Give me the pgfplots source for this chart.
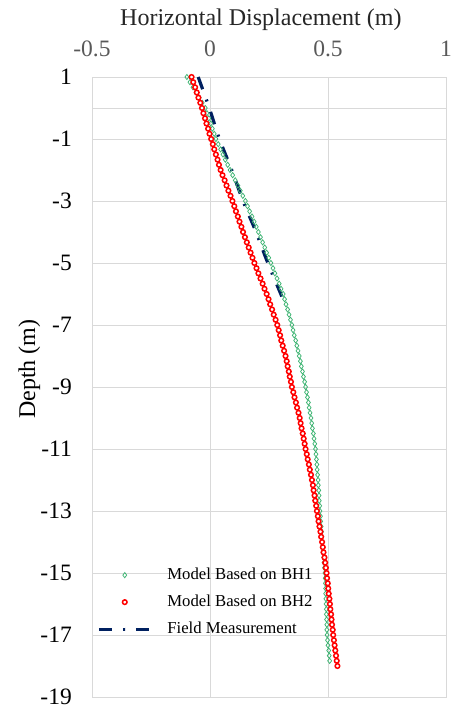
\documentclass[border=0pt]{standalone}
\usepackage{pgfplots}
\pgfplotsset{compat=1.18}
\usepackage{fontspec}
\setmainfont{Liberation Serif}
\definecolor{gridgray}{HTML}{D9D9D9}
\definecolor{bhgreen}{HTML}{3CB371}
\definecolor{navy}{HTML}{002060}
\definecolor{ticklab}{HTML}{595959}
\begin{document}
\begin{tikzpicture}
\useasboundingbox (-92pt,-14pt) rectangle (362pt,697pt);
\begin{axis}[
  scale only axis, width=354pt, height=620pt,
  xmin=-0.5, xmax=1, ymin=-19, ymax=1,
  axis line style={gridgray, line width=0.8pt},
  xtick={-0.5,0,0.5,1}, xticklabels={-0.5,0,0.5,1},
  ytick={1,-1,-3,-5,-7,-9,-11,-13,-15,-17,-19},
  yticklabels={1,-1,-3,-5,-7,-9,-11,-13,-15,-17,-19},
  extra y ticks={0}, extra y tick labels={},
  extra y tick style={grid=major, major tick length=0pt},
  major tick length=0pt,
  xmajorgrids, ymajorgrids,
  grid style={gridgray, line width=0.8pt},
  xticklabel pos=top,
  xticklabel style={anchor=base, yshift=20pt, inner sep=0pt, text=ticklab, font=\fontsize{23.5}{26}\selectfont},
  yticklabel style={anchor=east, xshift=-20pt, inner sep=0pt, text=black, font=\fontsize{23.5}{26}\selectfont},
  xlabel={Horizontal Displacement (m)},
  xlabel style={at={(axis description cs:0.477,1.0823)}, anchor=base, inner sep=0pt, font=\fontsize{24}{26}\selectfont, text=black!85},
  ylabel={Depth (m)},
  ylabel style={at={(axis description cs:-0.161,0.529)}, anchor=base, inner sep=0pt, font=\fontsize{24}{26}\selectfont, text=black},
  legend image code/.code={\draw[mark repeat=2,mark phase=2,#1] plot coordinates {(0pt,0pt) (26pt,0pt) (52pt,0pt)};},
  legend cell align=left,
  legend style={draw=none, fill=none, at={(axis description cs:0.014,0.153)}, anchor=west,
    font=\fontsize{16.7}{18}\selectfont, inner sep=0pt, row sep=11pt,
    nodes={inner sep=0pt, anchor=west, text height=12pt, text depth=4pt},
    /tikz/every odd column/.append style={column sep=15pt}},
]
\addplot[only marks, mark=diamond, mark size=2.6pt, mark options={draw=bhgreen, fill=white, line width=0.75pt}] table {
x y
-0.098 1.000
-0.085 0.833
-0.072 0.667
-0.059 0.500
-0.046 0.333
-0.033 0.167
-0.020 0.000
-0.013 -0.167
-0.005 -0.333
0.003 -0.500
0.010 -0.667
0.018 -0.833
0.025 -1.000
0.035 -1.167
0.045 -1.333
0.055 -1.500
0.065 -1.667
0.075 -1.833
0.085 -2.000
0.096 -2.167
0.107 -2.333
0.118 -2.500
0.128 -2.667
0.139 -2.833
0.150 -3.000
0.159 -3.167
0.168 -3.333
0.178 -3.500
0.187 -3.667
0.196 -3.833
0.205 -4.000
0.214 -4.167
0.223 -4.333
0.232 -4.500
0.240 -4.667
0.249 -4.833
0.258 -5.000
0.267 -5.167
0.275 -5.333
0.284 -5.500
0.293 -5.667
0.301 -5.833
0.310 -6.000
0.316 -6.167
0.322 -6.333
0.329 -6.500
0.335 -6.667
0.341 -6.833
0.347 -7.000
0.352 -7.167
0.357 -7.333
0.363 -7.500
0.368 -7.667
0.373 -7.833
0.378 -8.000
0.383 -8.167
0.387 -8.333
0.392 -8.500
0.396 -8.667
0.401 -8.833
0.405 -9.000
0.409 -9.167
0.413 -9.333
0.417 -9.500
0.420 -9.667
0.424 -9.833
0.428 -10.000
0.431 -10.167
0.434 -10.333
0.438 -10.500
0.441 -10.667
0.444 -10.833
0.447 -11.000
0.449 -11.167
0.451 -11.333
0.453 -11.500
0.454 -11.667
0.456 -11.833
0.458 -12.000
0.459 -12.167
0.461 -12.333
0.462 -12.500
0.463 -12.667
0.465 -12.833
0.466 -13.000
0.468 -13.167
0.469 -13.333
0.471 -13.500
0.473 -13.667
0.474 -13.833
0.476 -14.000
0.478 -14.167
0.480 -14.333
0.482 -14.500
0.483 -14.667
0.485 -14.833
0.487 -15.000
0.488 -15.167
0.489 -15.333
0.490 -15.500
0.490 -15.667
0.491 -15.833
0.492 -16.000
0.493 -16.167
0.493 -16.333
0.494 -16.500
0.495 -16.667
0.495 -16.833
0.496 -17.000
0.498 -17.167
0.500 -17.333
0.503 -17.500
0.505 -17.667
0.507 -17.833
};
\addlegendentry{Model Based on BH1}
\addplot[only marks, mark=*, mark size=2.3pt, mark options={draw=red, fill=white, line width=1.5pt}] table {
x y
-0.078 1.000
-0.071 0.833
-0.063 0.667
-0.056 0.500
-0.049 0.333
-0.041 0.167
-0.034 0.000
-0.028 -0.167
-0.021 -0.333
-0.015 -0.500
-0.008 -0.667
-0.002 -0.833
0.005 -1.000
0.012 -1.167
0.018 -1.333
0.025 -1.500
0.032 -1.667
0.038 -1.833
0.045 -2.000
0.053 -2.167
0.062 -2.333
0.070 -2.500
0.078 -2.667
0.087 -2.833
0.095 -3.000
0.103 -3.167
0.110 -3.333
0.118 -3.500
0.125 -3.667
0.133 -3.833
0.140 -4.000
0.148 -4.167
0.156 -4.333
0.164 -4.500
0.172 -4.667
0.180 -4.833
0.188 -5.000
0.197 -5.167
0.205 -5.333
0.214 -5.500
0.223 -5.667
0.231 -5.833
0.240 -6.000
0.248 -6.167
0.255 -6.333
0.263 -6.500
0.270 -6.667
0.278 -6.833
0.285 -7.000
0.291 -7.167
0.297 -7.333
0.302 -7.500
0.308 -7.667
0.314 -7.833
0.320 -8.000
0.325 -8.167
0.329 -8.333
0.334 -8.500
0.338 -8.667
0.343 -8.833
0.347 -9.000
0.353 -9.167
0.358 -9.333
0.364 -9.500
0.369 -9.667
0.375 -9.833
0.380 -10.000
0.384 -10.167
0.388 -10.333
0.393 -10.500
0.397 -10.667
0.401 -10.833
0.405 -11.000
0.410 -11.167
0.414 -11.333
0.419 -11.500
0.423 -11.667
0.428 -11.833
0.432 -12.000
0.436 -12.167
0.439 -12.333
0.443 -12.500
0.446 -12.667
0.450 -12.833
0.453 -13.000
0.457 -13.167
0.460 -13.333
0.464 -13.500
0.468 -13.667
0.471 -13.833
0.475 -14.000
0.478 -14.167
0.481 -14.333
0.485 -14.500
0.488 -14.667
0.491 -14.833
0.494 -15.000
0.496 -15.167
0.499 -15.333
0.501 -15.500
0.503 -15.667
0.506 -15.833
0.508 -16.000
0.510 -16.167
0.513 -16.333
0.515 -16.500
0.517 -16.667
0.520 -16.833
0.522 -17.000
0.525 -17.167
0.528 -17.333
0.531 -17.500
0.534 -17.667
0.537 -17.833
0.540 -18.000
};
\addlegendentry{Model Based on BH2}
\addplot[navy, line width=3.2pt, dash pattern=on 13pt off 11pt on 2pt off 11pt, smooth, no marks] table {
x y
-0.050 1.0
-0.003 0.0
0.040 -1.0
0.092 -2.0
0.140 -3.0
0.195 -4.0
0.245 -5.0
0.300 -6.0
0.310 -6.2
};
\addlegendentry{Field Measurement}
\end{axis}
\end{tikzpicture}
\end{document}
